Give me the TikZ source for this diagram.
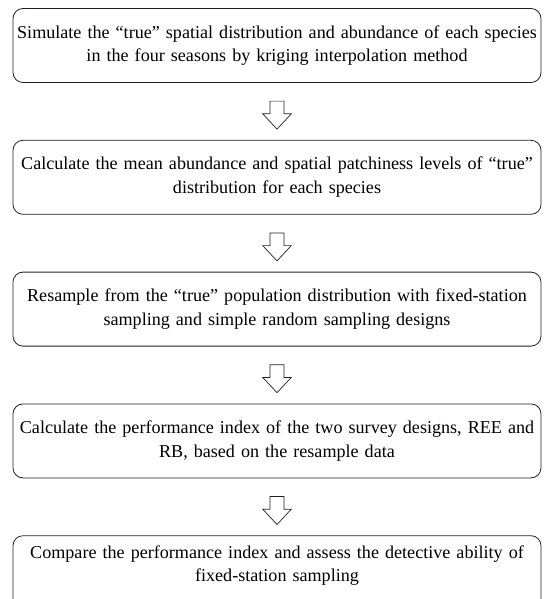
\documentclass[tikz,border=0pt]{standalone}
\usepackage{fontspec}
\setmainfont{Liberation Serif}
\usetikzlibrary{positioning,shapes.arrows}
\definecolor{fcline}{RGB}{35,31,32}
\tikzset{
  fcStep/.style={draw=fcline, rounded corners=10pt, line width=0.8pt, fill=white,
                 align=center, minimum height=74pt, minimum width=528pt,
                 text width=526pt, inner sep=0pt,
                 font=\fontsize{18.1}{23.5}\selectfont},
  fcHollow/.style={single arrow, draw=fcline, line width=0.7pt, fill=white,
                   rotate=-90, minimum height=28pt, minimum width=28pt,
                   single arrow head extend=7.3pt, single arrow tip angle=86,
                   inner sep=6.6pt}
}

\begin{document}
\begin{tikzpicture}[node distance=57pt]
  \clip (0,0) rectangle (544pt,-599pt);
  \node[fcStep] (sim) at (277pt,-45.5pt) {Simulate the “true” spatial distribution and abundance of each species\\in the four seasons by kriging interpolation method};
  \node[fcStep, below=of sim] (mean) {Calculate the mean abundance and spatial patchiness levels of “true”\\distribution for each species};
  \node[fcStep, below=of mean] (resamp) {Resample from the “true” population distribution with fixed-station\\sampling and simple random sampling designs};
  \node[fcStep, below=of resamp] (perf) {Calculate the performance index of the two survey designs, REE and\\RB, based on the resample data};
  % last box runs off the page, its text sits a little higher
  \node[fcStep, below=of perf] (comp) {Compare the performance index and assess the detective ability of\\fixed-station sampling\\[-5pt]\mbox{}};
  \path (sim) -- node[fcHollow] (a1) {} (mean);
  \path (mean) -- node[fcHollow] (a2) {} (resamp);
  \path (resamp) -- node[fcHollow] (a3) {} (perf);
  \path (perf) -- node[fcHollow] (a4) {} (comp);
\end{tikzpicture}
\end{document}
